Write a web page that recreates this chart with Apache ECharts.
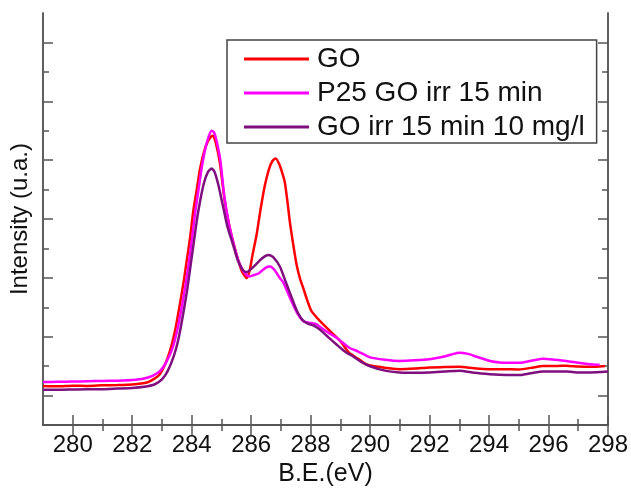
<!DOCTYPE html>
<html>
<head>
<meta charset="utf-8">
<script src="https://cdn.jsdelivr.net/npm/echarts@6/dist/echarts.min.js"></script>
<style>
  html, body { margin: 0; padding: 0; background: #fff; }
  #chart { width: 631px; height: 492px; }
</style>
</head>
<body>
<div id="chart"></div>
<script>
// 横轴刻度 B.E.(eV)
const xMajor = [280, 282, 284, 286, 288, 290, 292, 294, 296, 298]
const xMinor = [281, 283, 285, 287, 289, 291, 293, 295, 297]
// 纵轴无标签，只有刻度
const yMajor = [1, 3, 5, 7, 9, 11, 13]
const yMinor = [2, 4, 6, 8, 10, 12]

const names = ['GO', 'P25 GO irr 15 min', 'GO irr 15 min 10 mg/l']
const colors = ['#ff0000', '#ff00ff', '#7f0f7f']

const goData = [
  [279.0,1.33],[279.5,1.32],[280.0,1.34],[280.5,1.33],[281.0,1.35],[281.5,1.36],[282.0,1.38],
  [282.5,1.45],[282.75,1.58],[282.93,1.73],[283.1,2.05],[283.27,2.52],[283.45,3.25],[283.6,4.09],
  [283.72,4.8],[283.83,5.56],[283.95,6.4],[284.05,7.24],[284.17,8.0],[284.28,8.7],[284.42,9.3],
  [284.55,9.65],[284.65,9.8],[284.72,9.83],[284.82,9.55],[284.95,8.9],[285.1,7.7],[285.25,6.85],
  [285.4,6.2],[285.55,5.65],[285.7,5.2],[285.85,4.99],[285.95,5.25],[286.05,5.8],[286.18,6.45],
  [286.32,7.35],[286.46,8.14],[286.6,8.7],[286.72,8.98],[286.83,9.06],[286.95,8.85],[287.05,8.55],
  [287.13,8.26],[287.22,7.6],[287.3,6.91],[287.42,6.1],[287.53,5.44],[287.65,4.95],[287.75,4.66],
  [287.9,4.2],[288.03,3.87],[288.3,3.55],[288.65,3.2],[289.0,2.85],[289.3,2.45],[289.6,2.25],
  [289.9,2.05],[290.3,1.98],[290.7,1.92],[291.0,1.9],[291.5,1.92],[292.0,1.96],[292.5,1.97],
  [293.0,1.98],[293.5,1.93],[294.0,1.9],[294.5,1.9],[295.0,1.89],[295.5,1.96],[295.8,2.01],
  [296.3,2.01],[296.6,2.02],[297.0,1.99],[297.4,1.98],[297.9,2.01]
]

const p25Data = [
  [279.0,1.46],[279.5,1.47],[280.0,1.48],[280.5,1.49],[281.0,1.5],[281.5,1.51],[282.0,1.53],
  [282.4,1.58],[282.7,1.68],[282.95,1.85],[283.15,2.15],[283.35,2.6],[283.52,3.25],[283.68,4.09],
  [283.8,4.8],[283.91,5.56],[284.02,6.4],[284.12,7.24],[284.23,8.0],[284.33,8.7],[284.45,9.35],
  [284.57,9.8],[284.67,10.0],[284.75,9.95],[284.85,9.6],[284.97,8.95],[285.1,7.75],[285.25,6.85],
  [285.4,6.2],[285.55,5.65],[285.7,5.3],[285.85,5.1],[285.96,5.05],[286.1,5.1],[286.25,5.15],
  [286.4,5.28],[286.55,5.38],[286.65,5.39],[286.8,5.25],[286.97,4.99],[287.08,4.85],[287.25,4.45],
  [287.41,4.09],[287.58,3.75],[287.75,3.53],[287.95,3.48],[288.2,3.42],[288.5,3.2],[288.87,2.97],
  [289.3,2.63],[289.6,2.5],[290.0,2.3],[290.5,2.22],[291.0,2.18],[291.5,2.2],[292.0,2.24],
  [292.5,2.33],[292.8,2.42],[293.0,2.46],[293.3,2.42],[293.58,2.32],[294.03,2.18],[294.36,2.13],
  [294.8,2.12],[295.14,2.13],[295.5,2.2],[295.82,2.25],[296.2,2.22],[296.6,2.18],[297.0,2.12],
  [297.39,2.07],[297.72,2.05]
]

const irrData = [
  [279.0,1.2],[279.5,1.2],[280.0,1.21],[280.5,1.22],[281.0,1.22],[281.5,1.24],[282.0,1.26],
  [282.4,1.3],[282.75,1.38],[283.0,1.55],[283.2,1.85],[283.4,2.35],[283.55,2.9],[283.7,3.7],
  [283.85,4.6],[283.96,5.4],[284.07,6.2],[284.18,7.0],[284.3,7.7],[284.42,8.25],[284.55,8.6],
  [284.67,8.72],[284.77,8.6],[284.9,8.15],[285.05,7.45],[285.2,6.75],[285.4,6.1],[285.55,5.6],
  [285.7,5.3],[285.82,5.2],[285.9,5.22],[286.05,5.35],[286.2,5.5],[286.35,5.65],[286.5,5.76],
  [286.6,5.78],[286.75,5.7],[286.97,5.38],[287.15,4.9],[287.3,4.5],[287.45,4.1],[287.58,3.8],
  [287.75,3.55],[287.9,3.45],[288.1,3.38],[288.31,3.25],[288.6,2.98],[288.87,2.74],[289.15,2.5],
  [289.43,2.33],[289.7,2.15],[290.0,2.0],[290.5,1.85],[291.0,1.79],[291.5,1.78],[292.0,1.79],
  [292.5,1.82],[293.0,1.85],[293.5,1.78],[294.03,1.73],[294.36,1.71],[294.8,1.7],[295.14,1.71],
  [295.5,1.78],[295.82,1.82],[296.2,1.82],[296.6,1.82],[297.0,1.79],[297.39,1.79],[298.0,1.82]
]

const font = '"Liberation Sans", Arial, sans-serif'
const axisColor = '#555'

// 一条轴只画一组刻度（长或短），上下左右各叠两条
function xAx(pos, ticks, len, withLabel) {
  return {
    type: 'value', position: pos, min: 279, max: 298,
    axisLine: { show: true, lineStyle: { color: axisColor, width: 1.5 } },
    axisTick: { show: true, inside: true, length: len, customValues: ticks,
      lineStyle: { color: axisColor, width: 1.5 } },
    axisLabel: withLabel ? { show: true, customValues: xMajor, margin: 8,
      color: '#111', fontSize: 24, fontFamily: font } : { show: false },
    splitLine: { show: false },
    name: withLabel ? 'B.E.(eV)' : '',
    nameLocation: 'middle', nameGap: 36,
    nameTextStyle: { color: '#111', fontSize: 25, fontFamily: font }
  }
}
function yAx(pos, ticks, len, withName) {
  return {
    type: 'value', position: pos, min: 0, max: 14,
    axisLine: { show: true, lineStyle: { color: axisColor, width: 1.5 } },
    axisTick: { show: true, inside: true, length: len, customValues: ticks,
      lineStyle: { color: axisColor, width: 1.5 } },
    axisLabel: { show: false },
    splitLine: { show: false },
    name: withName ? 'Intensity (u.a.)' : '',
    nameLocation: 'middle', nameGap: 11,
    nameTextStyle: { color: '#111', fontSize: 24, fontFamily: font }
  }
}

const chart = echarts.init(document.getElementById('chart'))
const seriesData = [goData, p25Data, irrData]

chart.setOption({
  animation: false,
  backgroundColor: '#fff',
  grid: { left: 43, right: 22, top: 13, bottom: 64 },
  legend: {
    data: names,
    orient: 'vertical',
    left: 227, top: 40,
    icon: 'rect', itemWidth: 65, itemHeight: 3, itemGap: 6,
    padding: [5, 12, 2, 17],
    borderColor: '#444', borderWidth: 1.5,
    textStyle: { color: '#111', fontSize: 28, lineHeight: 25, fontFamily: font, padding: [0, 0, 0, 3] }
  },
  xAxis: [
    xAx('bottom', xMajor, 10, true),
    xAx('bottom', xMinor, 6, false),
    xAx('top', xMajor, 10, false),
    xAx('top', xMinor, 6, false)
  ],
  yAxis: [
    yAx('left', yMajor, 10, true),
    yAx('left', yMinor, 6, false),
    yAx('right', yMajor, 10, false),
    yAx('right', yMinor, 6, false)
  ],
  series: seriesData.map((d, i) => ({
    name: names[i],
    type: 'line',
    xAxisIndex: 0, yAxisIndex: 0,
    data: d,
    showSymbol: false, symbol: 'none',
    smooth: 0.2,
    color: colors[i],
    lineStyle: { color: colors[i], width: 2.5 }
  }))
})
</script>
</body>
</html>
